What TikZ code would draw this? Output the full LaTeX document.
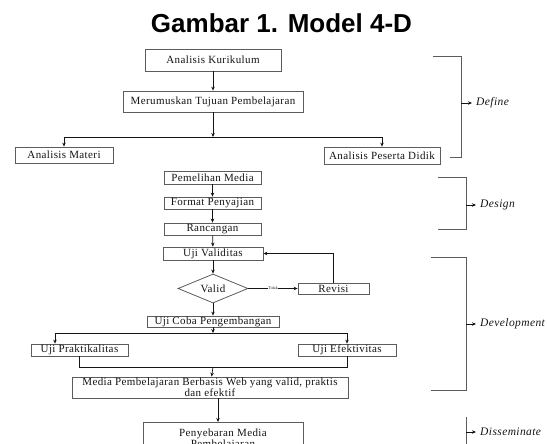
\documentclass[tikz,border=0pt]{standalone}
\usepackage{fontspec}
\setmainfont[LetterSpace=3.5]{Liberation Serif}
\newfontfamily\titlefont{Liberation Sans}
\usetikzlibrary{arrows.meta,positioning,shapes.geometric}
\definecolor{Frame}{HTML}{5C5C5C}
\definecolor{Ink}{HTML}{141414}

\tikzset{
  box/.style={draw=Frame,line width=0.8pt,inner sep=0pt,text=Ink,
    font=\fontsize{11}{10}\selectfont},
  link/.style={draw=Ink,line width=0.7pt,-{Stealth[length=4pt,width=3.5pt]}},
  wire/.style={draw=Ink,line width=0.7pt},
  bracket/.style={draw=Frame,line width=0.8pt},
  phase/.style={anchor=west,inner sep=0pt,inner xsep=4pt,text=Ink,
    font=\fontsize{11.5}{12}\selectfont\itshape}
}

\begin{document}
\begin{tikzpicture}[x=1pt,y=-1pt]
  \useasboundingbox (0,0) rectangle (547,444);
  \node[font=\titlefont\bfseries\fontsize{26}{28}\selectfont] (title) at (281.5,23) {Gambar 1. Model 4-D};

  % define
  \node[box,minimum width=136pt,minimum height=22pt] (kur) at (213,60) {Analisis Kurikulum};
  \node[box,minimum width=180pt,minimum height=21pt] (tuj) at (213,101.5) {Merumuskan Tujuan Pembelajaran};
  \node[box,minimum width=98pt,minimum height=16pt] (materi) at (64,155) {Analisis Materi};
  \node[box,minimum width=116pt,minimum height=17pt] (peserta) at (382,155.5) {Analisis Peserta Didik};
  \coordinate (j1) at (213,137);
  \draw[link] (kur) -- (tuj);
  \draw[link] (tuj) -- (j1);
  \draw[link] (j1) -| (materi);
  \draw[link] (j1) -| (peserta);

  % design
  \node[box,minimum width=97pt,minimum height=13pt] (pilih) at (212.5,177.5) {Pemelihan Media};
  \node[box,minimum width=97pt,minimum height=12pt] (format) at (212.5,203) {Format Penyajian};
  \node[box,minimum width=97pt,minimum height=12pt] (rancang) at (212.5,229) {Rancangan};
  \draw[link] (pilih) -- (format);
  \draw[link] (format) -- (rancang);

  % develop
  \node[box,minimum width=100pt,minimum height=13pt] (validitas) at (213,253.5) {Uji Validitas};
  \node[box,diamond,aspect=2.4,minimum width=70pt,minimum height=29pt] (valid) at (213,288.5) {Valid};
  \node[box,minimum width=71pt,minimum height=11pt] (revisi) at (333.5,288.5) {Revisi};
  \node[box,minimum width=132pt,minimum height=11pt] (ujicoba) at (213,321.5) {Uji Coba Pengembangan};
  \node[box,minimum width=97pt,minimum height=12pt] (prakt) at (79.5,350) {Uji Praktikalitas};
  \node[box,minimum width=98pt,minimum height=12pt] (efekt) at (347,350) {Uji Efektivitas};
  \node[box,minimum width=276pt,minimum height=21pt,align=center] (web) at (210,387.5)
    {Media Pembelajaran Berbasis Web yang valid, praktis\\dan efektif};
  \draw[link] (rancang) -- (validitas);
  \draw[link] (validitas) -- (valid);
  \draw[link] (valid) -- node[fill=white,inner sep=0.6pt,text=Ink,font=\fontsize{4}{4}\selectfont] {Tidak} (revisi);
  \draw[link] (revisi.north) |- (validitas.east);
  \draw[link] (valid) -- (ujicoba);
  \coordinate (j2) at (213,333);
  \coordinate (j3) at (213,367);
  \draw[link] (ujicoba) -- (j2);
  \draw[link] (j2) -| ([xshift=-24.5pt]prakt.north);
  \draw[link] (j2) -| (efekt);
  \draw[wire] (prakt.south) -- (prakt.south |- j3) -- (efekt.south |- j3) -- (efekt.south);
  \draw[link] (j3) -- (web);

  % disseminate
  \node[box,anchor=north,minimum width=160pt,inner ysep=6pt,align=center] (sebar) at (223,422)
    {Penyebaran Media\\Pembelajaran\\[8pt]};
  \draw[link] ([xshift=8pt]web.south) -- ([xshift=8pt]web.south |- sebar.north);

  % phase brackets
  \draw[bracket] (433,56) -- (461,56) -- (461,157) -- (450,157);
  \draw[bracket] (438,177) -- (466,177) -- (466,229) -- (438,229);
  \draw[bracket] (431,257) -- (466,257) -- (466,390) -- (431,390);
  \draw[bracket] (466,417) -- (466,450);
  \coordinate (bdef) at (461,103);
  \coordinate (bdes) at (466,205);
  \coordinate (bdev) at (466,324);
  \coordinate (bdis) at (466,432);
  \node[phase] (define) at (472,103) {Define};
  \node[phase] (design) at (476,205) {Design};
  \node[phase] (develop) at (476,324) {Development};
  \node[phase] (dissem) at (476,432) {Disseminate};
  \draw[link] (bdef) -- (define);
  \draw[link] (bdes) -- (design);
  \draw[link] (bdev) -- (develop);
  \draw[link] (bdis) -- (dissem);
\end{tikzpicture}
\end{document}
